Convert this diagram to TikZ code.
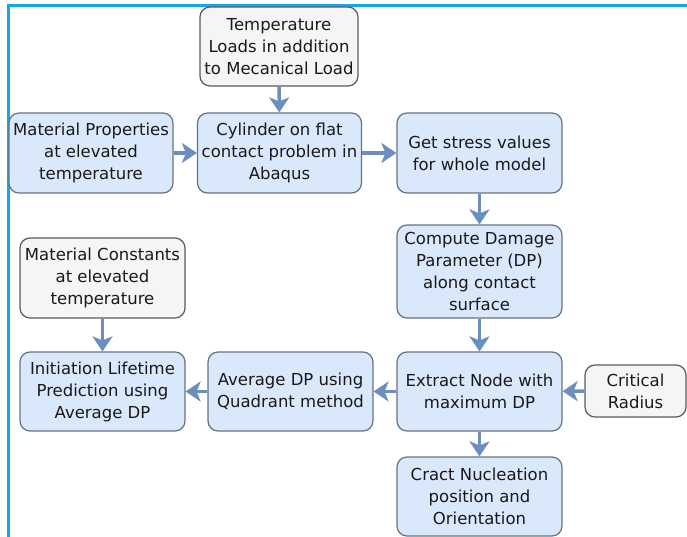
\documentclass[tikz,border=0pt]{standalone}
\usepackage{fontspec}
\setmainfont{DejaVu Sans}
\usetikzlibrary{arrows.meta}
\definecolor{bluefill}{HTML}{DAE8FC}
\definecolor{bluestroke}{HTML}{66727F}
\definecolor{grayfill}{HTML}{F5F5F5}
\definecolor{graystroke}{HTML}{5A5A5A}
\definecolor{arrowcol}{HTML}{6C8EBF}
\definecolor{framecol}{HTML}{14A6EA}
\begin{document}
\begin{tikzpicture}[x=1pt,y=-1pt,
  base/.style={rectangle,rounded corners=10pt,line width=1.2pt,align=center,
    font=\fontsize{16.5}{22}\selectfont,text=black!90,inner sep=0pt},
  bluebox/.style={base,fill=bluefill,draw=bluestroke},
  graybox/.style={base,fill=grayfill,draw=graystroke},
  flow/.style={draw=arrowcol,line width=3.5pt,arrows={-Stealth[length=15pt,width=20pt,inset=4pt]}}]
\useasboundingbox (0,0) rectangle (687,537);
\draw[framecol,line width=3pt] (8,537) -- (8,6) -- (687,6);

\node[graybox,minimum width=158pt,minimum height=79pt] (temp) at (279,46.5) {Temperature\\Loads in addition\\to Mecanical Load};
\node[bluebox,minimum width=164pt,minimum height=80pt] (mat) at (91,153) {Material Properties\\at elevated\\temperature};
\node[bluebox,minimum width=164pt,minimum height=80pt] (cyl) at (279.5,153) {Cylinder on flat\\contact problem in\\Abaqus};
\node[bluebox,minimum width=165pt,minimum height=80pt] (stress) at (479.5,153) {Get stress values\\for whole model};
\node[bluebox,minimum width=165pt,minimum height=93pt] (dp) at (479.5,271.5) {Compute Damage\\Parameter (DP)\\along contact\\surface};
\node[graybox,minimum width=165pt,minimum height=80pt] (const) at (102.5,278) {Material Constants\\at elevated\\temperature};
\node[bluebox,minimum width=165pt,minimum height=79pt] (init) at (102.5,391.5) {Initiation Lifetime\\Prediction using\\Average DP};
\node[bluebox,minimum width=165pt,minimum height=79pt] (avg) at (290.5,391.5) {Average DP using\\Quadrant method};
\node[bluebox,minimum width=165pt,minimum height=79pt] (ext) at (479.5,391.5) {Extract Node with\\maximum DP};
\node[graybox,minimum width=101pt,minimum height=52pt] (crit) at (635.5,391) {Critical\\Radius};
\node[bluebox,minimum width=165pt,minimum height=79pt] (crack) at (479.5,496.5) {Cract Nucleation\\position and\\Orientation};

\draw[flow] (temp) -- (cyl);
\draw[flow] (mat) -- (cyl);
\draw[flow] (cyl) -- (stress);
\draw[flow] (stress) -- (dp);
\draw[flow] (dp) -- (ext);
\draw[flow] (crit) -- (ext);
\draw[flow] (ext) -- (avg);
\draw[flow] (avg) -- (init);
\draw[flow] (const) -- (init);
\draw[flow] (ext) -- (crack);
\end{tikzpicture}
\end{document}
